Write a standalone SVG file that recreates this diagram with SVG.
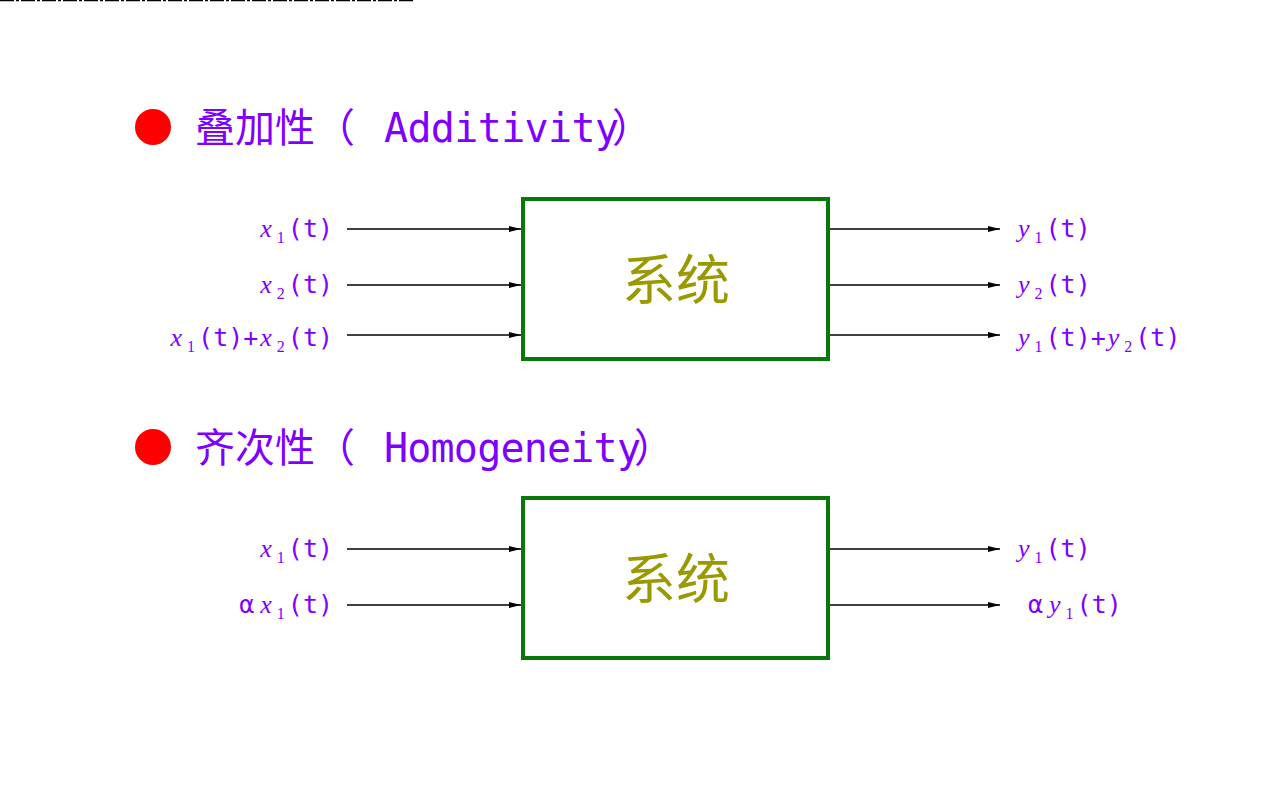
<svg xmlns="http://www.w3.org/2000/svg" width="1280" height="800" viewBox="0 0 1280 800">
<style>
.t{font-family:"DejaVu Sans Mono","Noto Sans CJK SC",monospace;fill:#8000ff;font-size:40px}
.l{font-family:"DejaVu Sans Mono","Noto Sans CJK SC",monospace;font-size:25px;fill:#8000ff}
.i{font-family:"Liberation Serif",serif;font-style:italic;font-size:26px}
.s{font-family:"Liberation Serif",serif;font-size:16px}
.box{fill:#fff;stroke:#087808;stroke-width:4}
.bt{font-family:"Noto Sans CJK SC",sans-serif;font-size:54px;fill:#999900}
.c line{stroke:#000;stroke-width:1.3;marker-end:url(#a)}
</style>
<defs><marker id="a" markerWidth="12" markerHeight="6" refX="12" refY="3" orient="auto" markerUnits="userSpaceOnUse"><path d="M0,0L12,3L0,6z" fill="#000"/></marker></defs>
<rect width="1280" height="800" fill="#fff"/>
<line x1="0" y1="0.5" x2="415" y2="0.5" stroke="#000" stroke-width="1.5" stroke-dasharray="14,2,3,2"/>
<g id="title1"><circle cx="153" cy="127" r="18" fill="#f00"/><text class="t" x="195" y="142">叠加性（</text><text class="t" x="384" y="142" textLength="235">Additivity</text><text class="t" x="612" y="142">）</text></g>
<g id="title2"><circle cx="153" cy="447" r="18" fill="#f00"/><text class="t" x="195" y="462">齐次性（</text><text class="t" x="384" y="462" textLength="257">Homogeneity</text><text class="t" x="634" y="462">）</text></g>
<g id="box1"><rect class="box" x="523" y="199" width="305" height="160"/><text class="bt" x="676" y="300" text-anchor="middle">系统</text></g>
<g id="box2"><rect class="box" x="523" y="498" width="305" height="160"/><text class="bt" x="676" y="599" text-anchor="middle">系统</text></g>
<g class="c">
<line x1="347" y1="229" x2="521" y2="229"/><line x1="347" y1="285" x2="521" y2="285"/><line x1="347" y1="335" x2="521" y2="335"/>
<line x1="830" y1="229" x2="1000" y2="229"/><line x1="830" y1="285" x2="1000" y2="285"/><line x1="830" y1="335" x2="1000" y2="335"/>
<line x1="347" y1="549" x2="521" y2="549"/><line x1="347" y1="605" x2="521" y2="605"/>
<line x1="830" y1="549" x2="1000" y2="549"/><line x1="830" y1="605" x2="1000" y2="605"/>
</g>
<g id="labels">
<text class="l" x="333" y="237" text-anchor="end"><tspan class="i">x</tspan><tspan class="s" dx="5" dy="6">1</tspan><tspan dx="3" dy="-6">(t)</tspan></text>
<text class="l" x="333" y="293" text-anchor="end"><tspan class="i">x</tspan><tspan class="s" dx="5" dy="6">2</tspan><tspan dx="3" dy="-6">(t)</tspan></text>
<text class="l" x="333" y="346" text-anchor="end"><tspan class="i">x</tspan><tspan class="s" dx="5" dy="6">1</tspan><tspan dx="3" dy="-6">(t)+</tspan><tspan class="i" dx="2">x</tspan><tspan class="s" dx="5" dy="6">2</tspan><tspan dx="3" dy="-6">(t)</tspan></text>
<text class="l" x="1018" y="237"><tspan class="i">y</tspan><tspan class="s" dx="5" dy="6">1</tspan><tspan dx="3" dy="-6">(t)</tspan></text>
<text class="l" x="1018" y="293"><tspan class="i">y</tspan><tspan class="s" dx="5" dy="6">2</tspan><tspan dx="3" dy="-6">(t)</tspan></text>
<text class="l" x="1018" y="346"><tspan class="i">y</tspan><tspan class="s" dx="5" dy="6">1</tspan><tspan dx="3" dy="-6">(t)+</tspan><tspan class="i" dx="2">y</tspan><tspan class="s" dx="5" dy="6">2</tspan><tspan dx="3" dy="-6">(t)</tspan></text>
<text class="l" x="333" y="557" text-anchor="end"><tspan class="i">x</tspan><tspan class="s" dx="5" dy="6">1</tspan><tspan dx="3" dy="-6">(t)</tspan></text>
<text class="l" x="333" y="613" text-anchor="end">α<tspan class="i" dx="6">x</tspan><tspan class="s" dx="5" dy="6">1</tspan><tspan dx="3" dy="-6">(t)</tspan></text>
<text class="l" x="1018" y="557"><tspan class="i">y</tspan><tspan class="s" dx="5" dy="6">1</tspan><tspan dx="3" dy="-6">(t)</tspan></text>
<text class="l" x="1028" y="613">α<tspan class="i" dx="6">y</tspan><tspan class="s" dx="5" dy="6">1</tspan><tspan dx="3" dy="-6">(t)</tspan></text>
</g>
</svg>
